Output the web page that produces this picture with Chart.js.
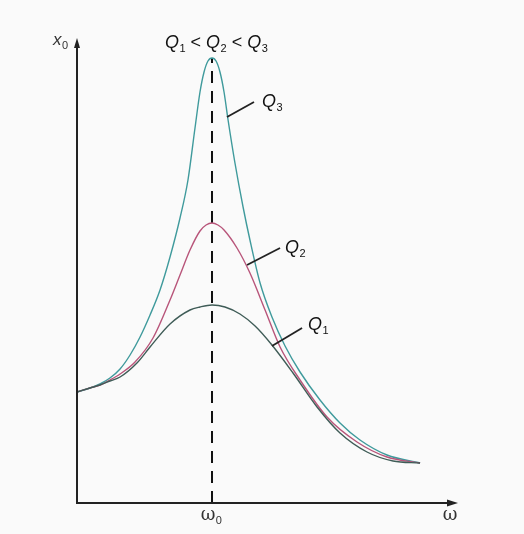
<!DOCTYPE html>
<html>
<head>
<meta charset="utf-8">
<script src="https://cdn.jsdelivr.net/npm/chart.js@4"></script>
<style>
  html, body { margin: 0; padding: 0; background: #fafafa; }
  #wrap { width: 524px; height: 534px; }
</style>
</head>
<body>
<div id="wrap"><canvas id="chart" width="524" height="534"></canvas></div>
<script>
// omega in units of omega0, amplitude in arbitrary units
const omegaQ1 = [0, 0.096, 0.170, 0.244, 0.319, 0.444, 0.541, 0.689, 0.837, 0.911, 1.0, 1.096, 1.207, 1.319, 1.444, 1.600, 1.778, 1.948, 2.148, 2.341, 2.541];
const ampQ1   = [1.11, 1.15, 1.18, 1.22, 1.26, 1.40, 1.56, 1.79, 1.93, 1.96, 1.98, 1.96, 1.89, 1.77, 1.58, 1.30, 0.96, 0.70, 0.51, 0.42, 0.40];

const omegaQ2 = [0, 0.096, 0.170, 0.244, 0.319, 0.430, 0.563, 0.689, 0.763, 0.837, 0.911, 0.956, 1.0, 1.044, 1.089, 1.185, 1.281, 1.393, 1.504, 1.652, 1.852, 2.074, 2.296, 2.541];
const ampQ2   = [1.11, 1.15, 1.18, 1.23, 1.29, 1.41, 1.65, 2.03, 2.28, 2.53, 2.72, 2.78, 2.80, 2.78, 2.73, 2.55, 2.30, 1.93, 1.56, 1.23, 0.86, 0.61, 0.46, 0.40];

const omegaQ3 = [0, 0.096, 0.170, 0.244, 0.319, 0.393, 0.467, 0.541, 0.615, 0.689, 0.763, 0.822, 0.874, 0.911, 0.941, 0.970, 1.0, 1.030, 1.059, 1.089, 1.119, 1.170, 1.230, 1.281, 1.356, 1.444, 1.541, 1.652, 1.800, 1.948, 2.096, 2.296, 2.541];
const ampQ3   = [1.11, 1.15, 1.19, 1.25, 1.34, 1.48, 1.66, 1.88, 2.13, 2.46, 2.85, 3.23, 3.75, 4.11, 4.31, 4.42, 4.45, 4.42, 4.31, 4.11, 3.83, 3.40, 2.96, 2.63, 2.20, 1.86, 1.57, 1.31, 1.03, 0.80, 0.63, 0.48, 0.40];

const xMax = 2.822;
const yMax = 4.65;
const omega0 = 1.0;

const seriesNames  = ['Q1', 'Q2', 'Q3'];
const seriesColors = ['#3f5c57', '#b8557a', '#3f9a9c'];

function pts(xs, ys) { return xs.map((x, i) => ({ x, y: ys[i] })); }

const curveSets = [pts(omegaQ1, ampQ1), pts(omegaQ2, ampQ2), pts(omegaQ3, ampQ3)];

const datasets = curveSets.map((data, i) => ({
  label: seriesNames[i],
  data,
  showLine: true,
  borderColor: seriesColors[i],
  borderWidth: 1.4,
  pointRadius: 0,
  cubicInterpolationMode: 'monotone',
  fill: false,
}));

datasets.push({
  label: 'omega0',
  data: [{ x: omega0, y: 0 }, { x: omega0, y: Math.max(...ampQ3) }],
  showLine: true,
  borderColor: '#111',
  borderWidth: 2,
  borderDash: [12, 8],
  pointRadius: 0,
});

// label leader lines: [fromX, fromY, toX, toY, textX, textY, sub]
const leaders = [
  [1.111, 3.86, 1.311, 4.01, 1.370, 3.96, '3'],
  [1.259, 2.38, 1.504, 2.55, 1.541, 2.50, '2'],
  [1.444, 1.57, 1.667, 1.75, 1.711, 1.73, '1'],
];

function subText(ctx, x, y, main, sub, size, italic, family) {
  const fam = family || '"Liberation Sans", Arial, sans-serif';
  ctx.font = (italic ? 'italic ' : '') + size + 'px ' + fam;
  ctx.fillText(main, x, y);
  const w = ctx.measureText(main).width;
  ctx.font = Math.round(size * 0.62) + 'px "Liberation Sans", Arial, sans-serif';
  ctx.fillText(sub, x + w + 0.5, y + size * 0.22);
  return w + ctx.measureText(sub).width + 0.5;
}

const decor = {
  id: 'decor',
  afterDatasetsDraw(chart) {
    const { ctx, scales: { x, y } } = chart;
    const px = v => x.getPixelForValue(v);
    const py = v => y.getPixelForValue(v);
    ctx.save();
    ctx.strokeStyle = '#222';
    ctx.fillStyle = '#222';
    ctx.lineWidth = 2;
    // axes
    ctx.beginPath();
    ctx.moveTo(px(0), py(0));
    ctx.lineTo(px(0), py(yMax) + 6);
    ctx.moveTo(px(0) - 1, py(0));
    ctx.lineTo(px(xMax) - 6, py(0));
    ctx.stroke();
    // arrow heads
    ctx.beginPath();
    ctx.moveTo(px(0), py(yMax));
    ctx.lineTo(px(0) - 3, py(yMax) + 10);
    ctx.lineTo(px(0) + 3, py(yMax) + 10);
    ctx.closePath();
    ctx.fill();
    ctx.beginPath();
    ctx.moveTo(px(xMax), py(0));
    ctx.lineTo(px(xMax) - 11, py(0) - 3.5);
    ctx.lineTo(px(xMax) - 11, py(0) + 3.5);
    ctx.closePath();
    ctx.fill();

    // leaders and Q labels
    ctx.lineWidth = 1.8;
    ctx.fillStyle = '#111';
    ctx.textBaseline = 'alphabetic';
    ctx.textAlign = 'left';
    leaders.forEach(l => {
      ctx.beginPath();
      ctx.moveTo(px(l[0]), py(l[1]));
      ctx.lineTo(px(l[2]), py(l[3]));
      ctx.stroke();
      subText(ctx, px(l[4]), py(l[5]), 'Q', l[6], 18, true);
    });

    // title Q1 < Q2 < Q3
    let tx = px(1.044) - 53;
    const ty = py(4.55);
    const lt = ' < ';
    tx += subText(ctx, tx, ty, 'Q', '1', 18, true);
    ctx.font = '18px "Liberation Sans", Arial, sans-serif';
    ctx.fillText(lt, tx, ty); tx += ctx.measureText(lt).width;
    tx += subText(ctx, tx, ty, 'Q', '2', 18, true);
    ctx.font = '18px "Liberation Sans", Arial, sans-serif';
    ctx.fillText(lt, tx, ty); tx += ctx.measureText(lt).width;
    subText(ctx, tx, ty, 'Q', '3', 18, true);

    // axis labels
    ctx.fillStyle = '#333';
    subText(ctx, px(-0.178), py(4.58), 'x', '0', 17, true);
    const serif = '"DejaVu Serif", serif';
    ctx.font = '18px ' + serif;
    const w = ctx.measureText('ω').width;
    subText(ctx, px(omega0) - w / 2 - 4, py(-0.17), 'ω', '0', 18, false, serif);
    ctx.font = '18px ' + serif;
    ctx.textAlign = 'center';
    ctx.fillText('ω', px(2.763), py(-0.17));
    ctx.restore();
  }
};

new Chart(document.getElementById('chart'), {
  type: 'scatter',
  data: { datasets },
  options: {
    responsive: false,
    animation: false,
    layout: { padding: { left: 77, right: 66, top: 38, bottom: 31 } },
    plugins: { legend: { display: false }, tooltip: { enabled: false } },
    scales: {
      x: { type: 'linear', min: 0, max: xMax, display: false },
      y: { type: 'linear', min: 0, max: yMax, display: false },
    },
  },
  plugins: [decor],
});
</script>
</body>
</html>
